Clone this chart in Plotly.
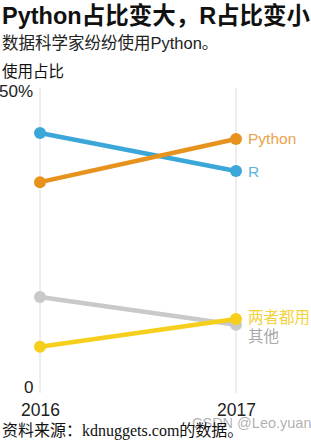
import plotly.graph_objects as go

years = [2016, 2017]
series_names = ["R", "Python", "其他", "两者都用"]
r_vals = [42.9, 36.5]
python_vals = [34.6, 41.9]
other_vals = [15.2, 10.5]
both_vals = [6.8, 11.5]
y_tick_labels = ["0", "50%"]
y_tick_vals = [0, 50]

line_colors = {"R": "#3BA7D9", "Python": "#E8921E", "其他": "#C9C9C9", "两者都用": "#F6CF1C"}
label_colors = {"R": "#5DB3DE", "Python": "#E9A449", "其他": "#A8A8A8", "两者都用": "#F3D23A"}
values = {"R": r_vals, "Python": python_vals, "其他": other_vals, "两者都用": both_vals}

W, H = 311, 441
px_per_year = 196.0
x_left_px = 40.0
y0_px, y50_px = 387.0, 91.0
ppu = (y0_px - y50_px) / 50.0

xr = [2016 - x_left_px / px_per_year, 2016 + (W - x_left_px) / px_per_year]
yr = [0 - (H - y0_px) / ppu, 50 + y50_px / ppu]

fig = go.Figure()

for yr_ in years:
    fig.add_shape(type="line", xref="x", yref="y", x0=yr_, x1=yr_,
                  y0=(y0_px - 393) / ppu, y1=(y0_px - 88) / ppu,
                  line=dict(color="#DCDCDC", width=1), layer="below")

for name in ["其他", "两者都用", "R", "Python"]:
    fig.add_trace(go.Scatter(x=years, y=values[name], mode="lines+markers",
                             line=dict(color=line_colors[name], width=4.5),
                             marker=dict(color=line_colors[name], size=12),
                             showlegend=False, hoverinfo="skip"))

cjk = "Noto Sans CJK SC"
sans = "Liberation Sans, Noto Sans CJK SC"

label_shift = {"R": -1, "Python": 0, "两者都用": 1, "其他": -12}
for name in series_names:
    v = values[name][1]
    fig.add_annotation(x=2017, y=v, xref="x", yref="y", text=name, showarrow=False,
                       xanchor="left", xshift=10, yshift=label_shift[name],
                       font=dict(family=sans, size=15.5, color=label_colors[name]))

for tv, tl in zip(y_tick_vals, y_tick_labels):
    fig.add_annotation(x=2016, y=tv, xref="x", yref="y", text=tl, showarrow=False,
                       xanchor="right", xshift=-5, font=dict(family=sans, size=17, color="#222222"))

for yv in years:
    fig.add_annotation(x=yv, y=0, xref="x", yref="y", text=str(yv), showarrow=False,
                       yanchor="middle", yshift=-(410 - y0_px), font=dict(family=sans, size=17.5, color="#222222"))

def pp(px):
    return 1 - px / H

fig.add_annotation(x=0, y=pp(16), xref="paper", yref="paper", xanchor="left", yanchor="middle",
                   text="<b>Python占比变大，R占比变小</b>", showarrow=False,
                   font=dict(family=sans, size=23.5, color="#111111"))
fig.add_annotation(x=0, y=pp(43), xref="paper", yref="paper", xanchor="left", yanchor="middle",
                   text="数据科学家纷纷使用Python。", showarrow=False,
                   font=dict(family=sans, size=16.5, color="#222222"))
fig.add_annotation(x=0, y=pp(70), xref="paper", yref="paper", xanchor="left", yanchor="middle",
                   text="使用占比", showarrow=False,
                   font=dict(family=cjk, size=15.5, color="#111111"))
fig.add_annotation(x=0.61, y=pp(423), xref="paper", yref="paper", xanchor="left", yanchor="middle",
                   text="CSDN @Leo.yuan", showarrow=False,
                   font=dict(family=sans, size=14.5, color="rgba(150,150,150,0.75)"))
fig.add_annotation(x=0, y=pp(431), xref="paper", yref="paper", xanchor="left", yanchor="middle",
                   text="资料来源：kdnuggets.com的数据。", showarrow=False,
                   font=dict(family="Liberation Serif, Noto Sans CJK SC", size=16, color="#111111"))

fig.update_layout(width=W, height=H, margin=dict(l=0, r=0, t=0, b=0),
                  paper_bgcolor="white", plot_bgcolor="white",
                  xaxis=dict(range=xr, visible=False, fixedrange=True),
                  yaxis=dict(range=yr, visible=False, fixedrange=True))

fig.write_html("out.html", config={"displayModeBar": False})
